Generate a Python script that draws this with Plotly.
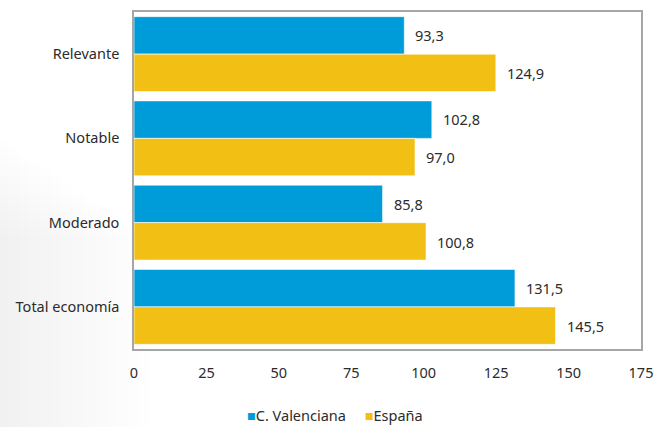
import plotly.graph_objects as go

# Categories and series values
categories = ["Relevante", "Notable", "Moderado", "Total economía"]
valenciana = [93.3, 102.8, 85.8, 131.5]
espana = [124.9, 97.0, 100.8, 145.5]
series_names = ["C. Valenciana", "España"]
tick_values = [0, 25, 50, 75, 100, 125, 150, 175]

BLUE = "#009BD9"
YELLOW = "#F2C014"
FONT = "Noto Sans"
TEXT = "#2b2b2b"
FS = 14.5

PLOT_TOP, PLOT_BOTTOM = 12, 349
PLOT_H = PLOT_BOTTOM - PLOT_TOP


def fmt(v):
    return f"{v:.1f}".replace(".", ",")


fig = go.Figure()
colors = [BLUE, YELLOW]
for name, vals, color in zip(series_names, [valenciana, espana], colors):
    fig.add_trace(go.Bar(
        y=categories, x=vals, name=name, orientation="h",
        marker=dict(color=color, line=dict(color="white", width=0.6)),
        showlegend=False,
    ))

# value labels beside each bar end (upper bar = first series)
for si, vals in enumerate([valenciana, espana]):
    for ci, v in enumerate(vals):
        fig.add_annotation(
            x=v, y=ci + (-0.225 if si == 0 else 0.225), xref="x", yref="y",
            text=fmt(v), showarrow=False, xanchor="left", xshift=9,
            font=dict(family=FONT, size=FS, color=TEXT),
        )

# soft grey haze in the lower-left background
steps = 14
for k in range(steps):
    fig.add_shape(type="rect", xref="paper", yref="paper",
                  x0=-0.27, x1=-0.27 + 0.30 * (k + 1) / steps,
                  y0=-0.24, y1=0.62 - 0.3 * k / steps,
                  fillcolor="#808080", opacity=0.012, line_width=0, layer="below")

# legend drawn as a single centred line of coloured squares and names
legend_text = "&nbsp;&nbsp;&nbsp;&nbsp;&nbsp;".join(
    f"<span style='color:{c}'>■</span>{n}" for n, c in zip(series_names, colors)
)
fig.add_annotation(
    x=(335 - 133.5) / (641 - 133.5), y=(PLOT_BOTTOM - 415) / PLOT_H,
    xref="paper", yref="paper",
    text=legend_text, showarrow=False, xanchor="center", yanchor="middle",
    font=dict(family=FONT, size=FS, color=TEXT),
)

fig.update_layout(
    width=666, height=427,
    margin=dict(l=133.5, r=25, t=PLOT_TOP, b=427 - PLOT_BOTTOM),
    paper_bgcolor="white", plot_bgcolor="white",
    barmode="group", bargap=0.11, bargroupgap=0,
    font=dict(family=FONT, size=FS, color=TEXT),
    showlegend=False,
    xaxis=dict(range=[0, 175], tickvals=tick_values, showgrid=False, zeroline=False,
               showline=True, linecolor="#a6a6a6", linewidth=1.5, mirror=True,
               ticks="", ticklabelstandoff=10, automargin=False,
               tickfont=dict(family=FONT, size=FS, color=TEXT)),
    yaxis=dict(autorange="reversed", showgrid=False, zeroline=False,
               showline=True, linecolor="#a6a6a6", linewidth=1.5, mirror=True,
               ticks="", ticklabelstandoff=10, automargin=False,
               tickfont=dict(family=FONT, size=FS, color=TEXT)),
)

fig.write_html("out.html")
